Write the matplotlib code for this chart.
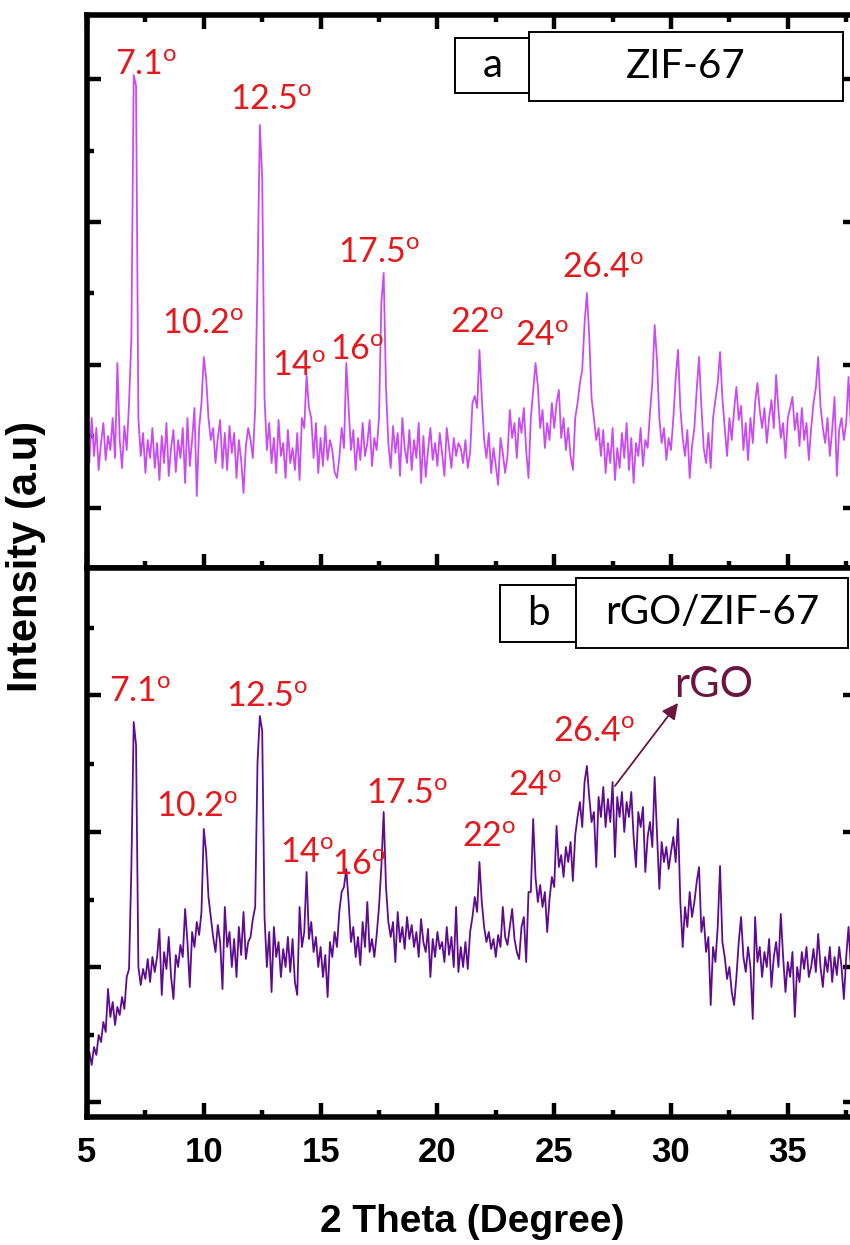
import numpy as np
import matplotlib
matplotlib.use("Agg")
import matplotlib.pyplot as plt
from matplotlib.patches import Rectangle

# ---------------- data ----------------
theta_start = 5.0      # first 2-theta value (degree)
theta_step = 0.1       # sampling step (degree)

# ZIF-67 intensity (a.u.), 5.0 ... 37.7 deg
zif67 = [
    130, 105, 150, 112, 140, 98, 125, 145, 108, 132,
    118, 150, 110, 205, 128, 100, 142, 118, 165, 230,
    493, 482, 150, 112, 135, 95, 128, 110, 140, 100,
    125, 88, 132, 105, 145, 92, 120, 138, 96, 128,
    110, 140, 85, 150, 102, 128, 160, 72, 140, 165,
    211, 190, 150, 128, 140, 105, 130, 148, 100, 135,
    98, 142, 115, 135, 90, 128, 108, 75, 122, 140,
    128, 110, 160, 290, 443, 390, 170, 118, 145, 105,
    130, 95, 148, 112, 125, 90, 138, 105, 120, 98,
    135, 88, 150, 140, 193, 160, 150, 110, 145, 95,
    130, 102, 142, 108, 128, 118, 96, 90, 110, 140,
    120, 205, 160, 118, 138, 98, 130, 108, 145, 112,
    125, 148, 102, 130, 118, 150, 265, 295, 180, 125,
    100, 142, 115, 135, 92, 150, 120, 105, 138, 98,
    128, 110, 145, 85, 132, 91, 118, 140, 108, 125,
    102, 135, 115, 92, 140, 120, 100, 130, 112, 125,
    120, 105, 128, 100, 115, 165, 172, 160, 218, 170,
    128, 110, 135, 95, 120, 102, 83, 130, 115, 95,
    112, 158, 130, 145, 110, 150, 135, 160, 118, 90,
    150, 178, 205, 182, 140, 158, 120, 145, 128, 165,
    140, 165, 178, 130, 150, 118, 140, 112, 98, 150,
    165, 185, 198, 245, 275, 232, 170, 150, 128, 140,
    112, 138, 95, 125, 105, 140, 88, 120, 100, 135,
    110, 145, 98, 130, 85, 125, 112, 140, 102, 128,
    120, 155, 185, 243, 208, 150, 125, 140, 108, 130,
    118, 150, 190, 218, 160, 130, 112, 138, 90, 122,
    140, 178, 211, 162, 120, 105, 135, 100, 150, 168,
    185, 216, 170, 140, 112, 150, 128, 158, 181, 148,
    162, 118, 145, 108, 150, 125, 165, 185, 158, 140,
    160, 125, 150, 168, 140, 193, 158, 130, 145, 110,
    150, 160, 171, 138, 155, 122, 160, 128, 145, 108,
    140, 165, 180, 211, 162, 140, 125, 150, 112, 138,
    171, 92, 138, 150, 128, 145, 191, 140,
]

# rGO/ZIF-67 intensity (a.u.), 5.0 ... 37.7 deg
rgo_zif67 = [
    48, 65, 52, 70, 62, 82, 75, 95, 85, 128,
    100, 115, 92, 110, 102, 120, 108, 140, 148, 250,
    395, 372, 150, 132, 148, 138, 158, 135, 160, 145,
    160, 188, 122, 165, 148, 180, 140, 118, 162, 150,
    172, 160, 208, 175, 130, 185, 170, 195, 182, 205,
    288, 265, 220, 200, 180, 165, 192, 175, 128, 210,
    170, 185, 150, 178, 140, 190, 162, 205, 158, 175,
    180, 198, 210, 355, 401, 386, 200, 150, 185, 125,
    190, 160, 175, 140, 168, 150, 180, 145, 178, 135,
    122, 210, 170, 185, 245, 178, 195, 165, 180, 150,
    170, 140, 162, 120, 175, 160, 185, 170, 205, 225,
    230, 248, 215, 175, 190, 160, 180, 152, 195, 170,
    215, 165, 178, 160, 182, 210, 250, 305, 230, 195,
    180, 195, 155, 205, 175, 190, 168, 200, 178, 192,
    170, 185, 160, 198, 175, 165, 188, 140, 178, 160,
    185, 168, 175, 155, 190, 162, 180, 150, 210, 145,
    170, 150, 175, 148, 185, 200, 220, 205, 255, 215,
    190, 175, 185, 168, 178, 160, 182, 170, 210, 180,
    172, 190, 208, 178, 165, 158, 190, 200, 155, 225,
    225, 298, 240, 215, 232, 210, 225, 185, 218, 240,
    230, 291, 250, 262, 240, 270, 255, 275, 236, 282,
    300, 315, 290, 335, 351, 320, 295, 305, 250, 320,
    300, 330, 290, 318, 295, 335, 260, 320, 300, 325,
    285, 315, 300, 325, 280, 250, 305, 290, 310, 245,
    280, 295, 270, 340, 285, 228, 275, 255, 270, 248,
    265, 280, 255, 298, 215, 170, 210, 190, 225, 200,
    215, 235, 250, 185, 200, 165, 180, 112, 170, 155,
    190, 251, 175, 160, 138, 150, 125, 112, 140, 175,
    200, 160, 145, 170, 150, 98, 200, 155, 170, 140,
    165, 150, 178, 130, 160, 175, 150, 203, 160, 125,
    155, 140, 165, 100, 150, 135, 165, 148, 170, 140,
    150, 168, 145, 183, 150, 130, 160, 145, 170, 135,
    160, 142, 170, 150, 118, 160, 190, 150,
]

panel_names = ["ZIF-67", "rGO/ZIF-67"]
panel_letters = ["a", "b"]

x_ticks = [5, 10, 15, 20, 25, 30, 35]
x_tick_labels = ["5", "10", "15", "20", "25", "30", "35"]

# peak labels (2-theta values as printed)
top_peak_text = ["7.1", "12.5", "10.2", "14", "16", "17.5", "22", "24", "26.4"]
top_peak_x = [7.52, 12.88, 9.97, 14.08, 16.56, 17.50, 21.70, 24.48, 27.09]
top_peak_y = [503, 468, 244, 202, 218, 315, 245, 232, 300]

bot_peak_text = ["7.1", "12.5", "10.2", "14", "16", "17.5", "22", "24", "26.4"]
bot_peak_x = [7.27, 12.71, 9.71, 14.42, 16.64, 18.70, 22.21, 24.18, 26.70]
bot_peak_y = [425, 420, 310, 264, 252, 323, 280, 331, 385]

# ---------------- figure ----------------
W, H = 850, 1245
fig = plt.figure(figsize=(W / 100, H / 100), dpi=100)


def fx(px):
    return px / W


def fy(py):
    return 1 - py / H


LEFT, RIGHT = 87, 857
TOP, MID, BOT = 15, 568, 1117
ax_top = fig.add_axes([fx(LEFT), fy(MID), (RIGHT - LEFT) / W, (MID - TOP) / H])
ax_bot = fig.add_axes([fx(LEFT), fy(BOT), (RIGHT - LEFT) / W, (BOT - MID) / H])

x_top = theta_start + theta_step * np.arange(len(zif67))
x_bot = theta_start + theta_step * np.arange(len(rgo_zif67))

ax_top.plot(x_top, zif67, color="#C94CF2", lw=1.3, zorder=2)
ax_bot.plot(x_bot, rgo_zif67, color="#5E0C8F", lw=1.3, zorder=2)

xmax = 5 + (RIGHT - LEFT) / 23.36
ax_top.set_xlim(5, xmax)
ax_bot.set_xlim(5, xmax)
ax_top.set_ylim(0, MID - TOP)
ax_bot.set_ylim(0, BOT - MID)

tick_font = dict(family=["Liberation Sans", "DejaVu Sans"], weight="bold", size=25)

for ax in (ax_top, ax_bot):
    for sp in ax.spines.values():
        sp.set_linewidth(4)
        sp.set_zorder(5)
    ax.set_xticks(x_ticks)
    ax.set_xticks([7.5, 12.5, 17.5, 22.5, 27.5, 32.5, 37.5], minor=True)
    ax.tick_params(which="both", direction="in", left=True, right=True,
                   labelleft=False, labelright=False, width=3.2)
    ax.tick_params(which="major", length=10)
    ax.tick_params(which="minor", length=5)

ax_top.set_yticks([60, 203, 346, 489])
ax_top.set_yticks([131.5, 274.5, 417.5], minor=True)
ax_bot.set_yticks([15, 150, 285, 422])
ax_bot.set_yticks([82.5, 217.5, 353.5, 489], minor=True)

ax_top.tick_params(which="both", top=True, bottom=True, labelbottom=False)
ax_bot.tick_params(which="both", top=False, bottom=True, labelbottom=True, pad=14)
ax_bot.set_xticklabels(x_tick_labels, fontdict=tick_font)

# axis titles
fig.text(fx(472), fy(1222), "2 Theta (Degree)", ha="center", va="center",
         family=["Liberation Sans", "DejaVu Sans"], weight="bold", size=28)
fig.text(fx(26), fy(556), "Intensity (a.u)", ha="center", va="center",
         rotation=90, family=["Liberation Sans", "DejaVu Sans"], weight="bold", size=30)

# peak labels
lab_font = dict(family=["Lato", "DejaVu Sans"], size=24.5, color="#E3191C")
sup = r"$^{\mathregular{o}}$"
for t, xx, yy in zip(top_peak_text, top_peak_x, top_peak_y):
    ax_top.text(xx, yy, t + sup, ha="center", va="center", zorder=6, **lab_font)
for t, xx, yy in zip(bot_peak_text, bot_peak_x, bot_peak_y):
    ax_bot.text(xx, yy, t + sup, ha="center", va="center", zorder=6, **lab_font)

# rGO arrow + label
ax_bot.annotate("", xy=(30.3, 414), xytext=(27.6, 331),
                arrowprops=dict(arrowstyle="-|>", color="#6B1641", lw=1.3,
                                mutation_scale=24, shrinkA=0, shrinkB=0), zorder=6)
ax_bot.text(31.84, 432, "rGO", ha="center", va="center", color="#6B1641",
            family=["Lato", "DejaVu Sans"], size=30, zorder=6)

# panel name boxes (pixel boxes: x0, y0, x1, y1)
box_font = dict(family=["Lato", "DejaVu Sans"], size=29, color="black")
boxes = [
    ((455, 38, 531, 93), panel_letters[0]),
    ((529, 32, 843, 101), panel_names[0]),
    ((500, 585, 577, 642), panel_letters[1]),
    ((576, 578, 848, 648), panel_names[1]),
]
for (x0, y0, x1, y1), txt in boxes:
    fig.add_artist(Rectangle((fx(x0), fy(y1)), (x1 - x0) / W, (y1 - y0) / H,
                             transform=fig.transFigure, facecolor="white",
                             edgecolor="black", lw=1.4, zorder=10))
    fig.text(fx((x0 + x1) / 2), fy((y0 + y1) / 2), txt, ha="center", va="center",
             zorder=11, **box_font)

fig.savefig("out.png", dpi=100)
